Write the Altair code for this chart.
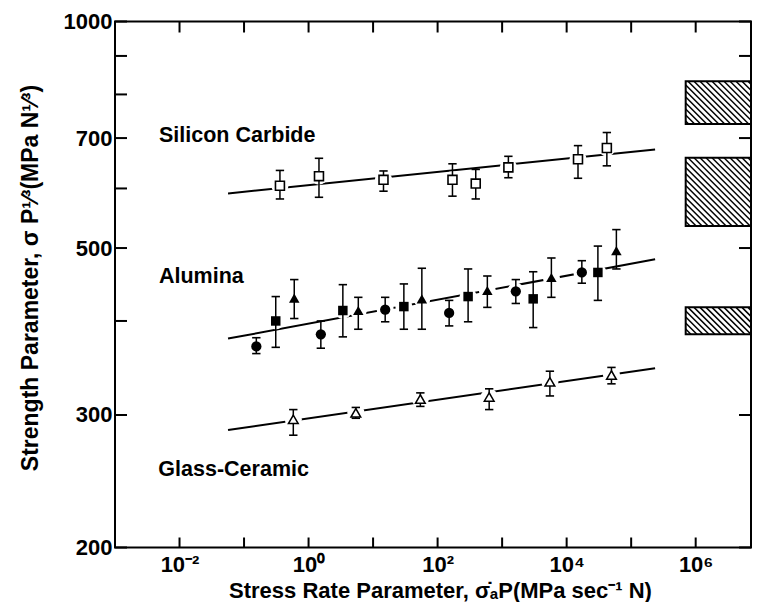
import altair as alt
import numpy as np
import pandas as pd

# ---------------- data ----------------
sic_x = [0.36, 1.45, 14.5, 170, 390, 1250, 15000, 42000]
sic_y = [605, 623, 616, 616, 609, 640, 656, 679]
sic_hi = [634, 658, 633, 647, 636, 662, 684, 712]
sic_lo = [581, 584, 595, 586, 581, 620, 619, 643]

alu_shape = ["circle", "square", "triangle", "circle", "square", "triangle",
             "circle", "square", "triangle", "circle", "square", "triangle",
             "circle", "square", "triangle", "circle", "square", "triangle"]
alu_x = [0.155, 0.31, 0.60, 1.55, 3.4, 5.9, 15.4, 30, 57, 151, 297, 590,
         1630, 3030, 5800, 17200, 30500, 59000]
alu_y = [370, 400, 429, 384, 413, 413, 414, 418, 428, 410, 431, 439,
         438, 428, 457, 464, 464, 496]
alu_hi = [380, 431, 454, 400, 447, 430, 430, 448, 470, 426, 469, 459,
          454, 465, 485, 481, 503, 529]
alu_lo = [362, 369, 403, 368, 381, 390, 399, 390, 390, 394, 399, 417,
          422, 392, 430, 449, 426, 469]

gc_x = [0.58, 5.4, 54, 630, 5500, 49500]
gc_y = [296, 302, 315, 317, 332, 339]
gc_hi = [305, 307, 321, 325, 343, 347]
gc_lo = [282, 297, 308, 305, 318, 330]

fit_x = [0.0565, 235000]
sic_fit = [591, 676]
alu_fit = [379, 483]
gc_fit = [286.5, 346]

# axes (the original frame is cut at the right, a little below 10^7)
x_dom = [1e-3, 7.2e6]
y_dom = [200, 1000]
x_tick_vals = [1e-3, 1e-2, 1e-1, 1, 10, 1e2, 1e3, 1e4, 1e5, 1e6]
x_label_vals = [1e-2, 1, 1e2, 1e4, 1e6]
x_label_text = ["10⁻²", "10⁰", "10²", "10⁴", "10⁶"]
y_tick_vals = [200, 300, 400, 500, 600, 700, 800, 900, 1000]
y_label_vals = [200, 300, 500, 700, 1000]

band_x0 = 7.0e5
band_x1 = x_dom[1]
band_top = [833, 659, 417]
band_bot = [731, 535, 384]

lab_text = ["Silicon Carbide", "Alumina", "Glass-Ceramic"]
lab_x = [0.0048, 0.0048, 0.0047]
lab_y = [691, 448.6, 249.2]

x_title = "Stress Rate Parameter, σ\u0307ₐP(MPa sec⁻¹ N)"
y_title = "Strength Parameter, σ P¹⁄³(MPa N¹⁄³)"

W, H = 636, 526
FONT = "Liberation Sans"

xscale = alt.Scale(type="log", domain=x_dom, nice=False)
yscale = alt.Scale(type="log", domain=y_dom, nice=False)

lx0, lx1 = np.log10(x_dom)
ly0, ly1 = np.log10(y_dom)


def px_x(v):
    return (np.log10(v) - lx0) / (lx1 - lx0) * W


def px_y(v):
    return (ly1 - np.log10(v)) / (ly1 - ly0) * H


def inv_x(p):
    return 10 ** (lx0 + p / W * (lx1 - lx0))


def inv_y(p):
    return 10 ** (ly1 - p / H * (ly1 - ly0))


hatch_rows = []
step = 6.0
for t, b in zip(band_top, band_bot):
    X0, X1 = px_x(band_x0), px_x(band_x1)
    Yt, Yb = px_y(t), px_y(b)
    c = Yt - X1 + step / 2
    while c < Yb - X0:
        xa = max(X0, Yt - c)
        xb = min(X1, Yb - c)
        if xb > xa:
            hatch_rows.append(dict(x=inv_x(xa), y=inv_y(xa + c),
                                   x2=inv_x(xb), y2=inv_y(xb + c)))
        c += step
hatch_df = pd.DataFrame(hatch_rows)
band_df = pd.DataFrame({"x": [band_x0] * 3, "x2": [band_x1] * 3,
                        "y": band_top, "y2": band_bot})

fit_df = pd.DataFrame({
    "series": ["sic"] * 2 + ["alu"] * 2 + ["gc"] * 2,
    "x": fit_x * 3,
    "y": sic_fit + alu_fit + gc_fit,
})

all_x = sic_x + alu_x + gc_x
pts_df = pd.DataFrame({"x": all_x, "y": sic_y + alu_y + gc_y,
                       "lo": sic_lo + alu_lo + gc_lo,
                       "hi": sic_hi + alu_hi + gc_hi})
caps_df = pd.DataFrame({"x": all_x * 2,
                        "y": sic_lo + alu_lo + gc_lo + sic_hi + alu_hi + gc_hi})
sic_df = pd.DataFrame({"x": sic_x, "y": sic_y})
alu_df = pd.DataFrame({"x": alu_x, "y": alu_y, "shape": alu_shape})
gc_df = pd.DataFrame({"x": gc_x, "y": gc_y})
lab_df = pd.DataFrame({"x": lab_x, "y": lab_y, "text": lab_text})

xtick_df = pd.DataFrame({"x": x_tick_vals})
ytick_df = pd.DataFrame({"y": y_tick_vals})

label_expr = " : ".join(
    f"abs(datum.value - {v}) < {v * 0.01} ? '{t}'"
    for v, t in zip(x_label_vals, x_label_text)) + " : ''"

xaxis = alt.Axis(values=x_label_vals, labelExpr=label_expr, ticks=False, tickSize=0,
                 domain=False, grid=False, labelFont=FONT, labelFontWeight="bold",
                 labelFontSize=22, labelPadding=7, labelBaseline="top",
                 labelColor="black", labelFlush=False, labelOverlap=False,
                 title=x_title, titleFont=FONT, titleFontSize=22,
                 titleFontWeight="bold", titleColor="black",
                 titleBaseline="alphabetic", titleAlign="center",
                 titleX=325, titleY=50)
yaxis = alt.Axis(values=y_label_vals, labelExpr="format(datum.value, 'd')",
                 ticks=False, tickSize=0, domain=False, grid=False,
                 labelFont=FONT, labelFontWeight="bold", labelFontSize=22,
                 labelPadding=3, labelColor="black", labelFlush=False,
                 labelOverlap=False, labelBaseline="middle",
                 title=y_title, titleFont=FONT, titleFontSize=23,
                 titleFontWeight="bold", titleColor="black",
                 titleAngle=270, titleAlign="center", titleBaseline="middle",
                 titleX=-85, titleY=256)


def X(f="x"):
    return alt.X(f"{f}:Q", scale=xscale, axis=xaxis)


def Y(f="y"):
    return alt.Y(f"{f}:Q", scale=yscale, axis=yaxis)


left_ticks = alt.Chart(ytick_df).mark_rule(color="black", strokeWidth=2).encode(
    y=Y(), x=alt.value(0), x2=alt.value(12))
right_ticks = alt.Chart(ytick_df).mark_rule(color="black", strokeWidth=2).encode(
    y=Y(), x=alt.value(W - 12), x2=alt.value(W))
bottom_ticks = alt.Chart(xtick_df).mark_rule(color="black", strokeWidth=2).encode(
    x=X(), y=alt.value(H), y2=alt.value(H - 10))
top_ticks = alt.Chart(xtick_df).mark_rule(color="black", strokeWidth=2).encode(
    x=X(), y=alt.value(0), y2=alt.value(11))

band_fill = alt.Chart(band_df).mark_rect(fill="white", strokeWidth=0).encode(
    x=X(), x2="x2:Q", y=Y(), y2="y2:Q")
hatch = alt.Chart(hatch_df).mark_rule(color="black", strokeWidth=1.5).encode(
    x=X(), x2="x2:Q", y=Y(), y2="y2:Q")
band_edge = alt.Chart(band_df).mark_rect(fillOpacity=0, stroke="black", strokeWidth=2).encode(
    x=X(), x2="x2:Q", y=Y(), y2="y2:Q")

fits = alt.Chart(fit_df).mark_line(color="black", strokeWidth=2).encode(
    x=X(), y=Y(), detail="series:N")
halo = alt.Chart(pts_df).mark_point(shape="circle", filled=True, color="white",
                                    opacity=1, size=290).encode(x=X(), y=Y())
ebars = alt.Chart(pts_df).mark_rule(color="black", strokeWidth=1.5).encode(
    x=X(), y=Y("lo"), y2="hi:Q")
caps = alt.Chart(caps_df).mark_point(shape="M-1,0L1,0", filled=False, color="black",
                                     strokeWidth=1.6, size=70, opacity=1).encode(x=X(), y=Y())

sic_pts = alt.Chart(sic_df).mark_point(shape="square", filled=True, fill="white",
                                       stroke="black", strokeWidth=1.6, size=80,
                                       opacity=1).encode(x=X(), y=Y())
alu_c = alt.Chart(alu_df[alu_df["shape"] == "circle"]).mark_point(
    shape="circle", filled=True, color="black", size=105, opacity=1).encode(x=X(), y=Y())
alu_s = alt.Chart(alu_df[alu_df["shape"] == "square"]).mark_point(
    shape="square", filled=True, color="black", size=90, opacity=1).encode(x=X(), y=Y())
alu_t = alt.Chart(alu_df[alu_df["shape"] == "triangle"]).mark_point(
    shape="triangle-up", filled=True, color="black", size=110, opacity=1).encode(x=X(), y=Y())
gc_pts = alt.Chart(gc_df).mark_point(shape="triangle-up", filled=True, fill="white",
                                     stroke="black", strokeWidth=1.5, size=95,
                                     opacity=1).encode(x=X(), y=Y())

labels = alt.Chart(lab_df).mark_text(align="left", baseline="alphabetic", font=FONT,
                                     fontSize=21.5, fontWeight="bold", color="black").encode(
    x=X(), y=Y(), text="text:N")

chart = alt.layer(
    left_ticks, right_ticks, bottom_ticks, top_ticks,
    band_fill, hatch, band_edge,
    fits, halo, ebars, caps,
    sic_pts, alu_c, alu_s, alu_t, gc_pts, labels,
).properties(
    width=W, height=H,
    padding={"left": 10, "top": 2.5, "right": 0, "bottom": 0},
    background="white",
).configure_view(stroke="black", strokeWidth=2)

chart.save("out.html", embed_options={"renderer": "svg", "actions": False})
